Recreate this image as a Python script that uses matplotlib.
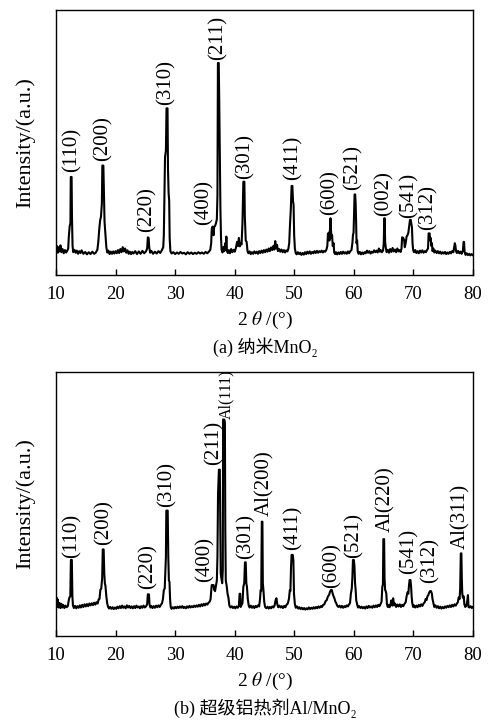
import matplotlib
matplotlib.use("Agg")
import matplotlib.pyplot as plt
import numpy as np

plt.rcParams['font.family'] = ['Liberation Serif', 'Noto Sans CJK SC', 'DejaVu Serif']
plt.rcParams['mathtext.fontset'] = 'stix'

# XRD trace of nano MnO2 (2theta, intensity a.u.)
trace_a = [
    (10.0, 9.6), (10.15, 11.0), (10.3, 8.4), (10.45, 10.5), (10.6, 8.9), (10.75, 11.2), (10.9, 8.6),
    (11.1, 9.8), (11.3, 8.2), (11.5, 9.4), (11.7, 8.5), (11.9, 9.2), (12.05, 10.0), (12.15, 14.5),
    (12.3, 18.5), (12.42, 19.5), (12.48, 37.0), (12.62, 37.0), (12.68, 22.0), (12.78, 11.0), (12.9, 8.6),
    (13.1, 9.5), (13.3, 8.4), (13.5, 9.2), (13.7, 8.0), (13.9, 9.0), (14.1, 8.3), (14.3, 9.3), (14.6, 8.0),
    (14.9, 8.7), (15.2, 7.8), (15.5, 8.6), (15.8, 7.9), (16.1, 8.8), (16.4, 8.0), (16.7, 8.5), (16.95, 9.6),
    (17.1, 12.5), (17.25, 17.0), (17.4, 20.5), (17.55, 22.0), (17.7, 27.0), (17.78, 41.3), (17.95, 41.3),
    (18.05, 30.0), (18.15, 20.0), (18.3, 15.5), (18.45, 10.5), (18.6, 8.5), (18.8, 9.2), (19.0, 7.9),
    (19.2, 8.8), (19.4, 8.0), (19.6, 8.9), (19.8, 8.1), (20.0, 9.0), (20.2, 8.2), (20.4, 9.4), (20.6, 8.3),
    (20.8, 9.8), (21.0, 8.6), (21.2, 10.5), (21.4, 8.9), (21.6, 10.0), (21.8, 8.4), (22.0, 9.3), (22.2, 8.0),
    (22.4, 8.8), (22.6, 7.9), (22.8, 8.7), (23.0, 8.1), (23.3, 9.0), (23.6, 7.9), (23.9, 8.9), (24.2, 8.0),
    (24.5, 9.1), (24.8, 8.2), (25.1, 8.9), (25.3, 10.0), (25.42, 14.2), (25.55, 14.0), (25.65, 10.5),
    (25.8, 8.4), (26.0, 9.1), (26.3, 8.0), (26.6, 8.8), (26.9, 8.1), (27.2, 9.0), (27.5, 8.3), (27.8, 9.5),
    (28.0, 10.5), (28.1, 15.0), (28.2, 30.0), (28.3, 44.5), (28.45, 47.0), (28.55, 62.9), (28.72, 62.9),
    (28.8, 40.0), (28.9, 31.0), (29.0, 28.0), (29.08, 14.0), (29.2, 9.0), (29.4, 8.1), (29.7, 8.6),
    (30.0, 7.9), (30.3, 8.5), (30.6, 8.0), (30.9, 8.7), (31.2, 8.1), (31.5, 8.4), (31.8, 7.8), (32.1, 8.6),
    (32.4, 8.0), (32.7, 8.5), (33.0, 7.9), (33.3, 8.4), (33.6, 8.0), (33.9, 8.6), (34.2, 8.1), (34.5, 8.5),
    (34.8, 8.0), (35.1, 8.7), (35.4, 8.2), (35.7, 8.9), (35.9, 9.5), (36.05, 12.0), (36.15, 17.5),
    (36.3, 18.3), (36.45, 15.0), (36.55, 18.2), (36.7, 18.5), (36.85, 19.5), (37.0, 21.0), (37.1, 30.0),
    (37.18, 80.0), (37.32, 80.0), (37.4, 66.0), (37.5, 45.0), (37.6, 25.0), (37.7, 14.0), (37.8, 9.5),
    (37.95, 8.5), (38.1, 10.5), (38.25, 9.0), (38.4, 12.0), (38.5, 9.5), (38.6, 14.5), (38.7, 9.0),
    (38.85, 8.3), (39.0, 9.4), (39.2, 8.2), (39.4, 9.8), (39.6, 8.6), (39.8, 9.5), (40.0, 8.8), (40.2, 10.2),
    (40.4, 12.5), (40.55, 11.0), (40.7, 14.0), (40.85, 10.8), (41.0, 12.0), (41.15, 11.5), (41.3, 19.5),
    (41.45, 35.2), (41.62, 35.2), (41.7, 22.0), (41.85, 13.0), (42.0, 12.5), (42.15, 9.0), (42.3, 8.2),
    (42.5, 8.9), (42.7, 7.9), (42.9, 8.6), (43.1, 8.0), (43.3, 8.9), (43.5, 8.2), (43.7, 8.8), (43.9, 8.0),
    (44.1, 9.0), (44.3, 8.3), (44.5, 9.2), (44.7, 8.4), (44.9, 9.4), (45.1, 8.6), (45.3, 9.6), (45.5, 8.8),
    (45.7, 10.0), (45.9, 9.0), (46.1, 10.4), (46.3, 9.4), (46.5, 11.0), (46.65, 9.6), (46.8, 12.8),
    (46.95, 10.0), (47.1, 11.4), (47.25, 9.0), (47.45, 9.8), (47.65, 8.8), (47.85, 9.6), (48.05, 8.6),
    (48.25, 9.4), (48.45, 8.5), (48.65, 9.3), (48.85, 8.9), (49.0, 9.8), (49.15, 12.0), (49.28, 19.0),
    (49.42, 25.0), (49.55, 33.6), (49.68, 33.6), (49.78, 28.0), (49.88, 26.5), (49.98, 15.0), (50.1, 10.0),
    (50.25, 8.2), (50.4, 7.8), (50.6, 8.6), (50.8, 7.9), (51.0, 8.4), (51.2, 7.6), (51.4, 8.3), (51.6, 7.7),
    (51.8, 8.6), (52.0, 7.9), (52.2, 8.8), (52.4, 8.1), (52.6, 8.9), (52.8, 8.0), (53.0, 8.7), (53.2, 8.2),
    (53.4, 9.0), (53.6, 8.3), (53.8, 9.1), (54.0, 8.4), (54.2, 9.0), (54.4, 8.6), (54.6, 9.2), (54.8, 8.5),
    (55.0, 9.1), (55.2, 8.8), (55.4, 9.6), (55.55, 11.0), (55.65, 15.5), (55.8, 16.0), (55.9, 13.0),
    (56.0, 17.5), (56.08, 21.4), (56.16, 17.0), (56.25, 14.0), (56.35, 15.0), (56.45, 11.0), (56.6, 12.0),
    (56.7, 8.5), (56.85, 7.9), (57.0, 8.6), (57.2, 7.8), (57.4, 8.5), (57.6, 7.9), (57.8, 8.7), (58.0, 8.0),
    (58.2, 8.8), (58.4, 8.1), (58.6, 8.6), (58.8, 8.0), (59.0, 8.9), (59.2, 8.2), (59.4, 9.0), (59.6, 9.4),
    (59.75, 12.0), (59.85, 15.0), (59.95, 16.0), (60.05, 24.0), (60.12, 30.4), (60.22, 30.4), (60.3, 27.0),
    (60.38, 20.0), (60.45, 12.0), (60.55, 13.0), (60.65, 8.8), (60.8, 8.0), (61.0, 8.7), (61.2, 7.8),
    (61.4, 8.5), (61.6, 7.9), (61.8, 8.6), (62.0, 8.2), (62.2, 9.2), (62.4, 8.4), (62.6, 9.0), (62.8, 8.1),
    (63.0, 8.8), (63.2, 8.4), (63.4, 9.3), (63.6, 8.6), (63.8, 9.2), (64.0, 8.5), (64.2, 10.0), (64.35, 8.8),
    (64.5, 9.4), (64.7, 8.6), (64.9, 9.2), (65.02, 12.0), (65.1, 21.4), (65.18, 21.4), (65.25, 12.5),
    (65.35, 10.5), (65.5, 8.6), (65.7, 9.5), (65.9, 8.4), (66.1, 9.8), (66.3, 8.7), (66.5, 10.2), (66.7, 8.9),
    (66.9, 9.6), (67.1, 8.6), (67.3, 10.0), (67.5, 8.9), (67.7, 9.4), (67.85, 8.7), (68.0, 10.0), (68.1, 14.2),
    (68.3, 14.0), (68.45, 13.0), (68.55, 10.5), (68.7, 12.0), (68.85, 14.5), (69.0, 15.0), (69.15, 16.0),
    (69.3, 18.5), (69.42, 20.8), (69.55, 20.8), (69.65, 19.5), (69.75, 18.0), (69.85, 12.0), (69.95, 9.5),
    (70.1, 8.6), (70.3, 9.4), (70.5, 8.3), (70.7, 9.0), (70.9, 8.2), (71.1, 9.2), (71.3, 8.5), (71.5, 9.3),
    (71.7, 8.4), (71.9, 9.0), (72.1, 8.6), (72.3, 9.5), (72.45, 10.0), (72.55, 15.7), (72.72, 15.7),
    (72.8, 13.0), (72.9, 14.0), (73.0, 11.0), (73.1, 12.0), (73.2, 9.0), (73.35, 10.0), (73.5, 8.5),
    (73.7, 9.2), (73.9, 8.3), (74.1, 9.0), (74.3, 8.2), (74.5, 8.8), (74.7, 8.0), (74.9, 8.6), (75.1, 8.1),
    (75.3, 8.7), (75.5, 7.9), (75.7, 8.5), (75.9, 8.0), (76.1, 8.7), (76.3, 8.2), (76.5, 9.0), (76.7, 8.6),
    (76.85, 10.5), (76.95, 12.0), (77.05, 11.0), (77.15, 9.0), (77.3, 8.3), (77.5, 9.1), (77.7, 8.2),
    (77.9, 8.8), (78.1, 8.0), (78.3, 9.2), (78.42, 12.5), (78.5, 12.5), (78.58, 8.8), (78.75, 7.6),
    (78.95, 8.2), (79.15, 7.5), (79.35, 8.0), (79.55, 7.4), (79.75, 7.9), (79.95, 7.5),
]

# XRD trace of Al/MnO2 super thermite
trace_b = [
    (10.0, 12.0), (10.1, 14.5), (10.2, 11.0), (10.3, 13.8), (10.45, 10.8), (10.6, 12.5), (10.75, 10.6),
    (10.9, 12.2), (11.05, 10.8), (11.2, 11.8), (11.4, 10.6), (11.6, 11.5), (11.8, 10.9), (12.0, 11.4),
    (12.1, 13.0), (12.25, 14.6), (12.4, 15.0), (12.5, 28.8), (12.66, 28.8), (12.75, 15.0), (12.85, 11.5),
    (13.0, 10.6), (13.2, 11.4), (13.4, 10.5), (13.6, 11.3), (13.8, 10.7), (14.0, 11.6), (14.2, 10.8),
    (14.4, 11.8), (14.6, 11.0), (14.8, 12.0), (15.0, 11.2), (15.2, 12.1), (15.4, 11.3), (15.6, 12.3),
    (15.8, 11.6), (16.0, 12.4), (16.2, 11.7), (16.4, 12.6), (16.6, 11.9), (16.8, 12.8), (17.0, 12.3),
    (17.15, 13.8), (17.3, 14.0), (17.45, 17.5), (17.6, 18.0), (17.75, 22.0), (17.85, 32.8), (18.0, 32.8),
    (18.1, 24.0), (18.2, 20.0), (18.3, 19.0), (18.45, 15.0), (18.6, 12.3), (18.75, 11.0), (18.9, 10.4),
    (19.1, 11.0), (19.3, 10.3), (19.5, 10.9), (19.7, 10.2), (19.9, 10.8), (20.1, 10.3), (20.3, 11.1),
    (20.5, 10.5), (20.7, 11.3), (20.9, 10.6), (21.1, 11.5), (21.3, 10.7), (21.5, 11.2), (21.7, 10.5),
    (21.9, 11.6), (22.1, 10.8), (22.3, 11.4), (22.5, 10.6), (22.7, 11.2), (22.9, 10.5), (23.1, 11.3),
    (23.3, 10.6), (23.5, 11.5), (23.7, 10.8), (23.9, 11.2), (24.1, 10.5), (24.3, 11.3), (24.5, 10.7),
    (24.7, 11.5), (24.9, 10.8), (25.1, 11.2), (25.3, 12.0), (25.42, 15.8), (25.6, 15.8), (25.7, 12.0),
    (25.85, 10.8), (26.0, 11.4), (26.2, 10.6), (26.4, 11.3), (26.6, 10.7), (26.8, 11.5), (27.0, 10.9),
    (27.2, 11.6), (27.4, 11.0), (27.6, 11.8), (27.8, 12.4), (27.95, 14.0), (28.1, 17.4), (28.25, 18.0),
    (28.35, 23.7), (28.45, 30.0), (28.52, 47.5), (28.75, 47.5), (28.85, 30.0), (28.95, 21.0), (29.05, 20.5),
    (29.15, 14.0), (29.25, 11.0), (29.4, 10.3), (29.6, 10.9), (29.8, 10.4), (30.0, 11.0), (30.2, 10.5),
    (30.4, 11.1), (30.6, 10.6), (30.8, 11.2), (31.0, 10.7), (31.2, 11.3), (31.4, 10.6), (31.6, 11.0),
    (31.8, 10.5), (32.0, 11.2), (32.2, 10.7), (32.4, 11.4), (32.6, 10.8), (32.8, 11.3), (33.0, 10.9),
    (33.2, 11.5), (33.4, 11.0), (33.6, 11.6), (33.8, 11.1), (34.0, 11.8), (34.2, 11.2), (34.4, 12.0),
    (34.6, 11.4), (34.8, 12.2), (35.0, 11.6), (35.2, 12.3), (35.4, 11.9), (35.6, 12.6), (35.8, 13.0),
    (35.95, 14.0), (36.05, 17.0), (36.15, 19.3), (36.45, 19.3), (36.55, 17.5), (36.7, 17.0), (36.85, 19.0),
    (37.0, 21.0), (37.1, 30.0), (37.2, 54.0), (37.35, 63.0), (37.5, 63.0), (37.58, 40.0), (37.65, 23.7),
    (37.75, 22.0), (37.9, 20.0), (38.0, 25.0), (38.05, 82.0), (38.25, 82.0), (38.35, 81.0), (38.42, 40.0),
    (38.5, 21.0), (38.65, 19.0), (38.8, 16.0), (38.95, 14.5), (39.1, 11.5), (39.3, 10.8), (39.5, 11.3),
    (39.7, 10.6), (39.9, 11.1), (40.1, 10.5), (40.3, 11.2), (40.5, 10.7), (40.7, 11.5), (40.82, 16.0),
    (40.92, 16.0), (41.0, 11.0), (41.15, 11.8), (41.3, 12.5), (41.45, 18.7), (41.6, 20.0), (41.72, 27.9),
    (41.85, 27.9), (41.95, 20.0), (42.05, 18.7), (42.2, 14.0), (42.35, 11.5), (42.5, 10.8), (42.7, 11.5),
    (42.9, 10.7), (43.1, 11.3), (43.3, 10.6), (43.5, 11.4), (43.7, 10.9), (43.9, 11.6), (44.1, 11.2),
    (44.25, 14.0), (44.35, 17.4), (44.45, 17.0), (44.55, 43.3), (44.65, 43.3), (44.72, 20.0), (44.82, 17.4),
    (44.95, 13.0), (45.1, 11.0), (45.3, 10.5), (45.5, 11.1), (45.7, 10.4), (45.9, 11.0), (46.1, 10.5),
    (46.3, 11.2), (46.5, 10.8), (46.7, 11.6), (46.85, 13.5), (47.0, 14.3), (47.15, 12.0), (47.3, 10.9),
    (47.5, 11.5), (47.7, 10.8), (47.9, 11.3), (48.1, 10.6), (48.3, 11.4), (48.5, 10.9), (48.7, 11.8),
    (48.9, 12.3), (49.1, 14.0), (49.25, 17.4), (49.35, 17.0), (49.45, 26.0), (49.55, 30.7), (49.75, 30.7),
    (49.85, 28.5), (49.95, 16.0), (50.1, 12.0), (50.25, 10.7), (50.45, 11.2), (50.65, 10.4), (50.85, 10.9),
    (51.05, 10.2), (51.25, 10.7), (51.45, 10.1), (51.65, 10.6), (51.85, 10.0), (52.05, 10.5), (52.25, 10.1),
    (52.45, 10.8), (52.65, 10.2), (52.85, 10.7), (53.05, 10.3), (53.25, 10.9), (53.45, 10.4), (53.65, 11.0),
    (53.85, 10.5), (54.05, 11.2), (54.25, 10.7), (54.45, 11.3), (54.65, 11.0), (54.85, 11.8), (55.05, 12.0),
    (55.25, 13.2), (55.45, 13.6), (55.65, 15.0), (55.85, 15.6), (56.0, 16.8), (56.15, 17.4), (56.3, 17.4),
    (56.45, 16.0), (56.6, 15.0), (56.75, 14.2), (56.9, 13.0), (57.05, 12.4), (57.2, 11.5), (57.4, 11.0),
    (57.6, 11.5), (57.8, 10.8), (58.0, 11.4), (58.2, 10.7), (58.4, 11.3), (58.6, 10.9), (58.8, 11.6),
    (59.0, 11.2), (59.2, 12.0), (59.35, 12.4), (59.5, 16.0), (59.65, 18.0), (59.75, 22.0), (59.85, 28.8),
    (60.0, 28.8), (60.1, 26.5), (60.2, 20.0), (60.3, 17.5), (60.4, 13.5), (60.55, 12.0), (60.7, 10.8),
    (60.9, 11.3), (61.1, 10.6), (61.3, 11.1), (61.5, 10.5), (61.7, 11.0), (61.9, 10.4), (62.1, 11.2),
    (62.3, 10.6), (62.5, 11.4), (62.7, 10.8), (62.9, 11.2), (63.1, 10.7), (63.3, 11.5), (63.5, 10.9),
    (63.7, 11.6), (63.9, 11.0), (64.1, 11.8), (64.3, 11.3), (64.5, 12.2), (64.65, 13.0), (64.78, 18.7),
    (64.88, 19.5), (64.95, 36.7), (65.08, 36.7), (65.15, 22.0), (65.25, 17.4), (65.35, 17.0), (65.45, 16.0),
    (65.55, 12.0), (65.7, 11.0), (65.85, 11.8), (66.0, 10.9), (66.15, 12.0), (66.3, 13.5), (66.45, 11.5),
    (66.6, 14.3), (66.75, 11.6), (66.9, 12.3), (67.1, 11.0), (67.3, 11.9), (67.5, 11.2), (67.7, 12.0),
    (67.9, 11.0), (68.1, 11.8), (68.3, 11.3), (68.5, 12.2), (68.7, 12.8), (68.85, 15.0), (69.0, 16.5),
    (69.15, 16.0), (69.25, 19.0), (69.35, 21.2), (69.5, 21.2), (69.6, 19.0), (69.7, 15.0), (69.8, 12.5),
    (69.95, 11.0), (70.1, 11.6), (70.3, 10.8), (70.5, 11.5), (70.7, 10.9), (70.9, 11.8), (71.1, 11.2),
    (71.3, 12.0), (71.5, 11.4), (71.7, 12.3), (71.9, 12.8), (72.05, 14.0), (72.2, 13.6), (72.35, 15.0),
    (72.5, 15.5), (72.65, 16.5), (72.8, 17.0), (72.95, 17.0), (73.1, 16.0), (73.2, 14.0), (73.35, 12.5),
    (73.5, 11.0), (73.7, 11.6), (73.9, 10.7), (74.1, 11.3), (74.3, 10.5), (74.5, 11.1), (74.7, 10.4),
    (74.9, 11.0), (75.1, 10.5), (75.3, 11.2), (75.5, 10.7), (75.7, 11.4), (75.9, 10.9), (76.1, 11.6),
    (76.3, 11.0), (76.5, 11.8), (76.7, 11.2), (76.9, 12.0), (77.1, 11.5), (77.3, 12.3), (77.45, 12.8),
    (77.6, 14.6), (77.75, 14.0), (77.85, 18.0), (77.95, 31.3), (78.05, 31.3), (78.12, 22.0), (78.2, 16.0),
    (78.3, 14.5), (78.45, 15.0), (78.55, 12.0), (78.7, 11.0), (78.9, 11.5), (79.05, 13.5), (79.15, 15.5),
    (79.25, 11.0), (79.4, 10.8), (79.6, 11.3), (79.8, 10.6), (80.0, 11.0),
]

# peak labels: text, 2theta where the label sits, intensity of the label foot
labels_a = ["(110)", "(200)", "(220)", "(310)", "(400)", "(211)", "(301)",
            "(411)", "(600)", "(521)", "(002)", "(541)", "(312)"]
label_x_a = [12.7, 17.95, 25.2, 28.4, 34.85, 37.25, 41.7, 49.7, 56.0, 59.9, 65.0, 69.3, 72.5]
label_y_a = [38.4, 42.4, 15.7, 63.5, 18.5, 80.5, 35.8, 35.2, 22.3, 31.4, 21.8, 21.0, 16.4]

labels_b = ["(110)", "(200)", "(220)", "(310)", "(400)", "(211)", "Al(111)", "(301)", "Al(200)",
            "(411)", "(600)", "(521)", "Al(220)", "(541)", "(312)", "Al(311)"]
label_x_b = [12.75, 18.0, 25.5, 28.65, 35.0, 36.6, 38.6, 41.9, 45.1,
             49.7, 56.3, 60.0, 65.4, 69.3, 72.7, 78.0]
label_y_b = [29.2, 33.8, 17.4, 48.4, 20.0, 64.1, 81.8, 28.8, 45.0,
             31.9, 17.7, 29.0, 38.9, 23.1, 19.7, 32.6]

xticks = [10, 20, 30, 40, 50, 60, 70, 80]
captions = ["(a) 纳米MnO\u2082", "(b) 超级铝热剂Al/MnO\u2082"]

fig = plt.figure(figsize=(4.89, 7.23), dpi=100)
W, H = 489.0, 723.0
# axes boxes in pixels: left, top, right, bottom
boxes = [(56, 10, 473, 275), (56, 372, 473, 636)]

panels = [(trace_a, labels_a, label_x_a, label_y_a), (trace_b, labels_b, label_x_b, label_y_b)]

for i, (trace, labs, lx, ly) in enumerate(panels):
    l, t, r, b = boxes[i]
    ax = fig.add_axes([l / W, 1 - b / H, (r - l) / W, (b - t) / H])
    x, y = np.array(trace).T
    ax.plot(x, y, color='black', lw=1.5)
    for s, px, py in zip(labs, lx, ly):
        fs = 11.5 if s == "Al(111)" else 15
        ax.annotate(s, (px, py), xytext=(0, 1), textcoords='offset points',
                    rotation=90, ha='center', va='bottom', fontsize=fs)
    ax.set_xlim(10, 80)
    ax.set_ylim(0, 100)
    ax.set_xticks(xticks)
    ax.set_yticks([])
    ax.tick_params(axis='x', direction='in', length=4, width=1, pad=8, labelsize=13.5)
    for sp in ax.spines.values():
        sp.set_linewidth(1.0)

    yc = (t + b) / 2
    fig.text(25 / W, 1 - yc / H, "Intensity/(a.u.)", rotation=90, ha='center', va='center', fontsize=16)
    fig.text(265 / W, 1 - (b + 45) / H, r"2 $\theta$ /(°)", ha='center', va='center', fontsize=14)
    fig.text(265 / W, 1 - (b + 72) / H, captions[i], ha='center', va='center', fontsize=13)

fig.savefig("out.png", dpi=100)
